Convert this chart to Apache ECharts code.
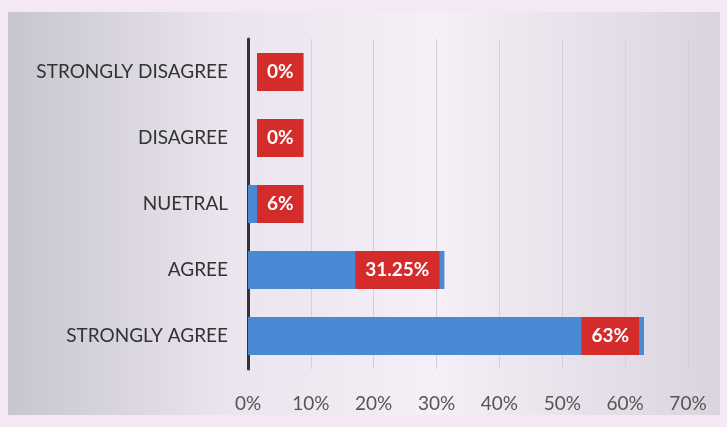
<!DOCTYPE html>
<html>
<head>
<meta charset="utf-8">
<script src="https://cdn.jsdelivr.net/npm/echarts@6/dist/echarts.min.js"></script>
<style>
html,body{margin:0;padding:0;background:#f3e8f4;}
#c{width:727px;height:427px;}
</style>
</head>
<body>
<div id="c"></div>
<script>
const categories = ['STRONGLY DISAGREE', 'DISAGREE', 'NUETRAL', 'AGREE', 'STRONGLY AGREE'];
const values = [0, 0, 6, 31.25, 63];
const xTicks = [0, 10, 20, 30, 40, 50, 60, 70];

const chart = echarts.init(document.getElementById('c'));
const labelBase = {
  show: true,
  formatter: p => p.value + '%',
  color: '#ffffff',
  fontWeight: 'bold',
  fontSize: 19,
  fontFamily: 'Lato, "Open Sans", sans-serif',
  backgroundColor: '#d42b2b',
  padding: [9, 10],
  lineHeight: 20
};
chart.setOption({
  backgroundColor: '#f3e8f4',
  animation: false,
  graphic: [{
    type: 'rect',
    z: -10,
    shape: {x: 8, y: 12, width: 712, height: 403},
    style: {
      fill: new echarts.graphic.LinearGradient(0, 0, 1, 0, [
        {offset: 0, color: '#c8c5cf'},
        {offset: 0.3, color: '#e9e4ed'},
        {offset: 0.6, color: '#f5f0f7'},
        {offset: 1, color: '#d9d4de'}
      ])
    }
  }],
  grid: {left: 248, right: 39, top: 39, bottom: 58, containLabel: false},
  xAxis: {
    type: 'value',
    min: xTicks[0],
    max: xTicks[xTicks.length - 1],
    interval: 10,
    axisLine: {show: false},
    axisTick: {show: false},
    splitLine: {show: true, lineStyle: {color: '#d4d0d8', width: 1}},
    axisLabel: {
      formatter: v => v + '%',
      color: '#555',
      fontSize: 19,
      fontFamily: 'Lato, "Open Sans", sans-serif',
      margin: 25
    }
  },
  yAxis: {
    type: 'category',
    data: categories,
    inverse: true,
    axisLine: {show: true, lineStyle: {color: '#333', width: 3}},
    axisTick: {show: false},
    axisLabel: {
      color: '#333',
      fontSize: 19,
      fontFamily: 'Lato, "Open Sans", sans-serif',
      margin: 20
    }
  },
  series: [{
    type: 'bar',
    barWidth: 38,
    itemStyle: {color: '#4a8ad4'},
    data: values.map(v => ({
      value: v,
      label: Object.assign({}, labelBase, v < 10 ? {position: 'insideLeft', distance: 9} : {position: 'insideRight', distance: 5})
    }))
  }]
});
</script>
</body>
</html>
